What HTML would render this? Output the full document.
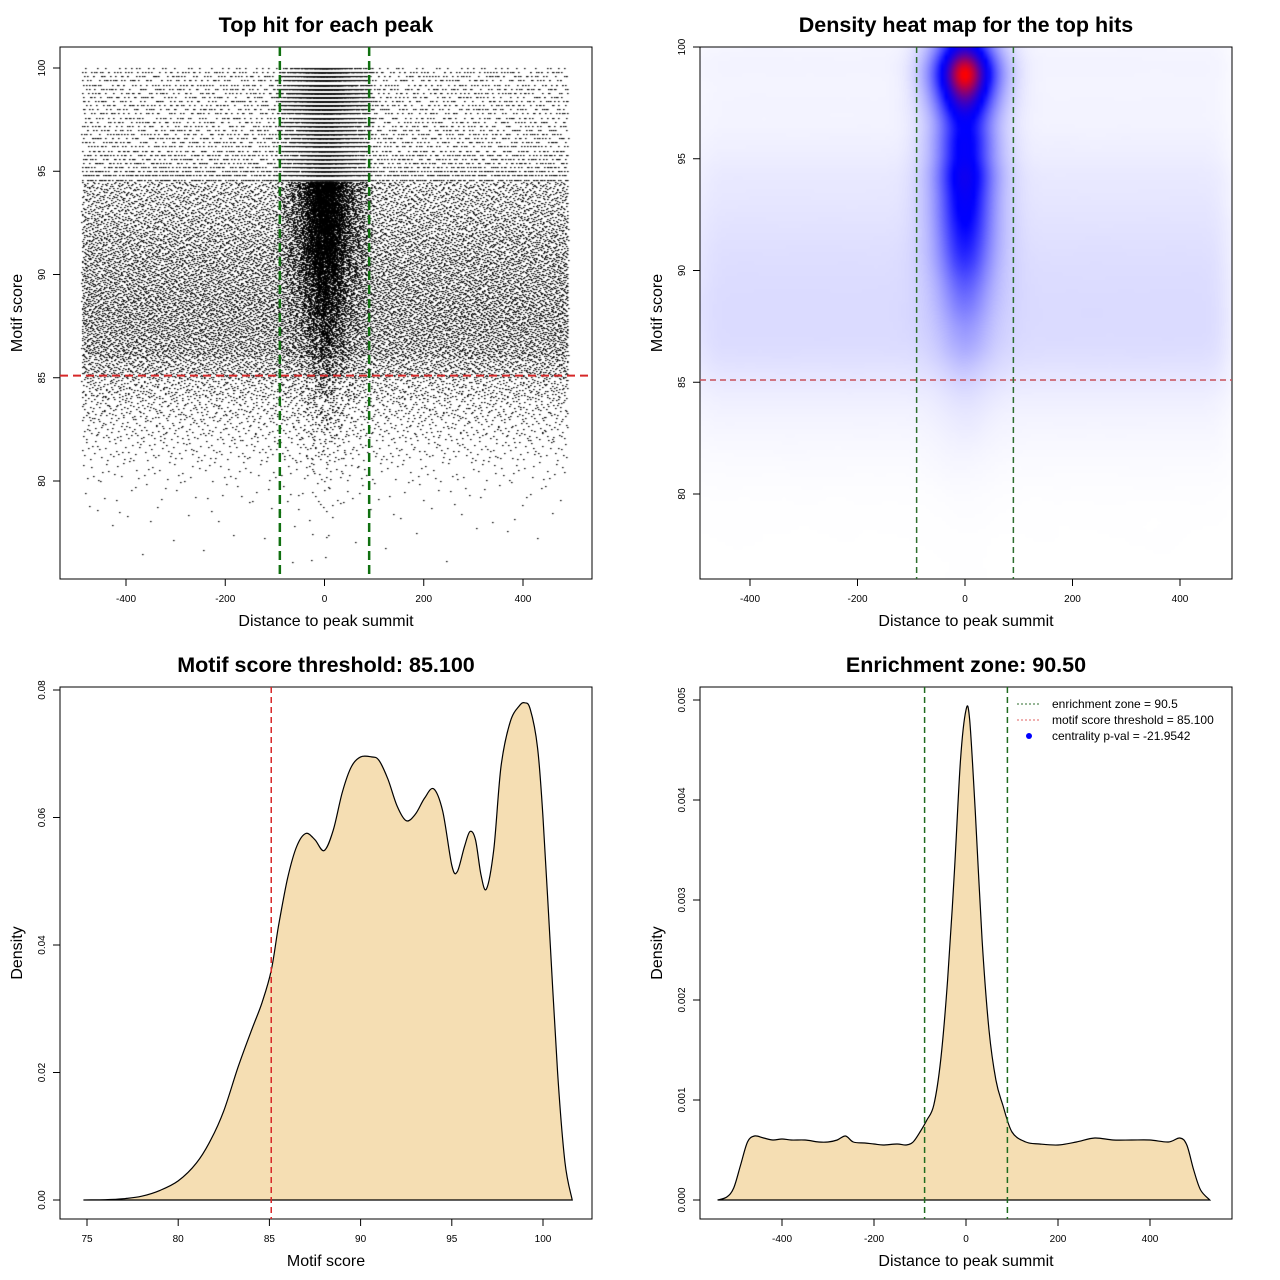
<!DOCTYPE html>
<html><head><meta charset="utf-8">
<style>
html,body{margin:0;padding:0;background:#fff;}
#wrap{position:relative;width:1280px;height:1280px;font-family:"Liberation Sans",sans-serif;}
canvas{position:absolute;}
svg{position:absolute;left:0;top:0;}
</style></head>
<body>
<div id="wrap">
<canvas id="scatter" width="532" height="532" style="left:60px;top:47px"></canvas>
<canvas id="heat" width="532" height="532" style="left:700px;top:47px"></canvas>
<svg id="svg" width="1280" height="1280"></svg>
</div>
<script>
// ---- data ----
const scoreBins = [76,77,78,79,80,81,82,83,84,85,86,87,88,89,90,91,92,93,94,95,96,97,98,99];
const bgCounts  = [5,10,25,50,120,250,400,600,900,1500,2000,2100,2100,2000,1900,1700,1500,1300,1200,800,650,600,600,650];
const centerCounts = [2,3,5,8,15,25,40,60,90,150,300,400,600,800,1100,1300,1500,1600,1800,1500,1600,1800,3800,2400];
const scoreDensX = [74.8,76,77,78,79,80,81,81.8,82.5,83.3,84,84.6,85.1,85.5,86,86.5,87,87.5,88,88.5,89,89.5,90,90.6,91,91.5,92,92.5,93,93.5,94,94.5,95,95.3,95.7,96,96.3,96.6,96.9,97.3,97.7,98.2,98.7,99,99.3,99.7,100,100.4,100.8,101.2,101.6];
const scoreDensY = [0,0.00005,0.0002,0.0006,0.0015,0.003,0.0058,0.0095,0.014,0.021,0.0265,0.031,0.036,0.043,0.0505,0.0555,0.0575,0.0565,0.0548,0.058,0.064,0.068,0.0695,0.0695,0.069,0.066,0.0618,0.0595,0.0605,0.063,0.0645,0.061,0.0525,0.0515,0.0555,0.0578,0.0565,0.051,0.0488,0.055,0.068,0.075,0.0775,0.078,0.077,0.071,0.06,0.04,0.02,0.006,0];
const distDensX = [-540,-520,-505,-490,-475,-460,-440,-420,-400,-380,-350,-320,-300,-280,-262,-245,-220,-200,-180,-150,-130,-115,-100,-85,-70,-55,-40,-25,-12,0,8,20,35,50,65,80,100,130,160,200,240,280,320,360,400,440,465,480,495,510,530];
const distDensY = [0,0.00003,0.00012,0.00035,0.00058,0.00064,0.00062,0.0006,0.00061,0.0006,0.0006,0.00058,0.00058,0.0006,0.00064,0.00058,0.00057,0.00056,0.00055,0.00056,0.00055,0.00058,0.00068,0.0008,0.00095,0.0014,0.0022,0.0033,0.0044,0.0049,0.0048,0.0039,0.0026,0.0017,0.0012,0.00095,0.00068,0.00058,0.00056,0.00055,0.00058,0.00062,0.0006,0.0006,0.0006,0.00058,0.00062,0.00055,0.0003,0.0001,0];
const distTicks = [-400,-200,0,200,400];
const scoreTicks = [80,85,90,95,100];
const scoreXTicks = [75,80,85,90,95,100];
const densTicksL = [0,0.02,0.04,0.06,0.08];
const densTicksR = [0,0.001,0.002,0.003,0.004,0.005];
const threshold = 85.1;
const zoneHalf = 90;

// ---- helpers ----
const NS="http://www.w3.org/2000/svg";
const svg=document.getElementById('svg');
function mk(tag,attrs,parent){const e=document.createElementNS(NS,tag);for(const k in attrs)e.setAttribute(k,attrs[k]);(parent||svg).appendChild(e);return e;}
function lin(d0,d1,r0,r1){return v=>r0+(v-d0)*(r1-r0)/(d1-d0);}
function halton(i,b){let f=1,r=0;while(i>0){f/=b;r+=f*(i%b);i=Math.floor(i/b);}return r;}
function smoothPath(P){let d='M'+P[0][0].toFixed(1)+' '+P[0][1].toFixed(1);
  for(let i=0;i<P.length-1;i++){const p0=P[Math.max(0,i-1)],p1=P[i],p2=P[i+1],p3=P[Math.min(P.length-1,i+2)];
    const c1=[p1[0]+(p2[0]-p0[0])/6,p1[1]+(p2[1]-p0[1])/6],c2=[p2[0]-(p3[0]-p1[0])/6,p2[1]-(p3[1]-p1[1])/6];
    d+=` C${c1[0].toFixed(1)} ${c1[1].toFixed(1)} ${c2[0].toFixed(1)} ${c2[1].toFixed(1)} ${p2[0].toFixed(1)} ${p2[1].toFixed(1)}`;}
  return d;}

// generate points from bin counts
const pts=[];
let gi=1,ci=1;
scoreBins.forEach((lo,k)=>{
  for(let j=0;j<bgCounts[k];j++){const x=-490+980*halton(gi,2);let s=lo+halton(gi,3);gi++;pts.push([x,s]);}
  for(let j=0;j<centerCounts[k];j++){let x;
    if(ci%2)x=(halton(ci,5)+halton(ci,7)-1)*100;else x=(halton(ci,5)+halton(ci,7)+halton(ci,13)-1.5)*40;
    let s=lo+halton(ci,11);ci++;pts.push([x,s]);}
});
pts.forEach(p=>{if(p[1]>=94.5)p[1]=Math.min(100,Math.round(p[1]/0.2)*0.2);});

function panel(o){
  const g=mk('g',{});
  mk('rect',{x:o.L,y:o.T,width:o.R-o.L,height:o.B-o.T,fill:'none',stroke:'#000','stroke-width':1,},g);
  const t=mk('text',{x:(o.L+o.R)/2,y:o.T-15,'text-anchor':'middle','font-size':21.5,'font-weight':'bold',},g);t.textContent=o.title;
  const xt=mk('text',{x:(o.L+o.R)/2,y:o.B+47,'text-anchor':'middle','font-size':16,},g);xt.textContent=o.xlab;
  const ym=(o.T+o.B)/2;
  const yt=mk('text',{x:o.L-38,y:ym,transform:`rotate(-90 ${o.L-38} ${ym})`,'text-anchor':'middle','font-size':16,},g);
  yt.textContent=o.ylab;
  const xa=mk('g',{},g);
  o.xt.forEach(v=>{const x=o.sx(v);mk('line',{x1:x,x2:x,y1:o.B,y2:o.B+7,stroke:'#000'},xa);
    const l=mk('text',{x:x,y:o.B+23,'text-anchor':'middle','font-size':10},xa);l.textContent=o.xf(v);});
  mk('line',{x1:o.sx(o.xt[0]),x2:o.sx(o.xt[o.xt.length-1]),y1:o.B,y2:o.B,stroke:'#000'},xa);
  const ya=mk('g',{},g);
  o.yt.forEach(v=>{const y=o.sy(v);mk('line',{x1:o.L-7,x2:o.L,y1:y,y2:y,stroke:'#000'},ya);
    const l=mk('text',{x:o.L-15,y:y,transform:`rotate(-90 ${o.L-15} ${y})`,'text-anchor':'middle','font-size':10},ya);l.textContent=o.yf(v);});
  mk('line',{x1:o.L,x2:o.L,y1:o.sy(o.yt[0]),y2:o.sy(o.yt[o.yt.length-1]),stroke:'#000'},ya);
  return g;
}

// ---- panel 1 scatter ----
const p1={L:60,R:592,T:47,B:579,sx:lin(-400,400,126,523),sy:lin(80,100,481,68)};
(function(){
  const c=document.getElementById('scatter').getContext('2d');c.fillStyle='#000';
  pts.forEach(p=>{c.fillRect(Math.round(p1.sx(p[0])-p1.L),Math.round(p1.sy(p[1])-p1.T),1.6,1.1);});
})();
const g1=panel({...p1,name:'scatter-panel',title:'Top hit for each peak',xlab:'Distance to peak summit',ylab:'Motif score',xt:distTicks,yt:scoreTicks,xf:v=>v,yf:v=>v});
mk('line',{x1:p1.L,x2:p1.R,y1:p1.sy(threshold),y2:p1.sy(threshold),stroke:'#d62728','stroke-width':2,'stroke-dasharray':'8 5',},g1);
[-zoneHalf,zoneHalf].forEach(v=>mk('line',{x1:p1.sx(v),x2:p1.sx(v),y1:p1.T,y2:p1.B,stroke:'#107010','stroke-width':2.5,'stroke-dasharray':'9 5',},g1));

// ---- panel 2 heatmap ----
const p2={L:700,R:1232,T:47,B:579,sx:lin(-400,400,750,1180),sy:lin(80,100,494,47)};
(function(){
  const W=133,H=133,cell=4;const grid=new Float32Array(W*H);
  pts.forEach(p=>{const i=Math.floor((p2.sx(p[0])-p2.L)/cell),j=Math.floor((p2.sy(p[1])-p2.T)/cell);if(i>=0&&i<W&&j>=0&&j<H)grid[j*W+i]++;});
  function blur(a,sig,horiz){const r=Math.ceil(sig*3),k=[];let s=0;for(let t=-r;t<=r;t++){const v=Math.exp(-t*t/(2*sig*sig));k.push(v);s+=v;}k.forEach((v,i)=>k[i]=v/s);
    const o=new Float32Array(W*H);for(let y=0;y<H;y++)for(let x=0;x<W;x++){let acc=0;for(let t=-r;t<=r;t++){let xx=horiz?x+t:x,yy=horiz?y:y+t;xx=Math.max(0,Math.min(W-1,xx));yy=Math.max(0,Math.min(H-1,yy));acc+=a[yy*W+xx]*k[t+r];}o[y*W+x]=acc;}return o;}
  let d=blur(blur(grid,3,true),3,false);
  let mx=0;d.forEach(v=>{if(v>mx)mx=v;});
  const sm=document.createElement('canvas');sm.width=W;sm.height=H;const sc=sm.getContext('2d');const im=sc.createImageData(W,H);
  for(let q=0;q<W*H;q++){let t=Math.pow(d[q]/mx,0.95);let r,g,b;
    if(t<0.5){const u=t*2;r=255*(1-u);g=255*(1-u);b=255;}else{const u=Math.pow((t-0.5)*2,1.6);r=255*u;g=0;b=255*(1-u);}
    im.data[q*4]=r;im.data[q*4+1]=g;im.data[q*4+2]=b;im.data[q*4+3]=255;}
  sc.putImageData(im,0,0);
  const c=document.getElementById('heat').getContext('2d');c.imageSmoothingEnabled=true;c.drawImage(sm,0,0,W*cell,H*cell);
})();
const g2=panel({...p2,name:'heatmap-panel',title:'Density heat map for the top hits',xlab:'Distance to peak summit',ylab:'Motif score',xt:distTicks,yt:scoreTicks,xf:v=>v,yf:v=>v});
mk('line',{x1:p2.L,x2:p2.R,y1:p2.sy(threshold),y2:p2.sy(threshold),stroke:'#c8505a','stroke-width':1.5,'stroke-dasharray':'6 4',},g2);
[-zoneHalf,zoneHalf].forEach(v=>mk('line',{x1:p2.sx(v),x2:p2.sx(v),y1:p2.T,y2:p2.B,stroke:'#2e6e2e','stroke-width':1.5,'stroke-dasharray':'6 4',},g2));

// ---- panel 3 score density ----
const p3={L:60,R:592,T:687,B:1219,sx:lin(75,100,87,543),sy:lin(0,0.08,1200,690)};
const g3=panel({...p3,name:'score-density-panel',title:'Motif score threshold: 85.100',xlab:'Motif score',ylab:'Density',xt:scoreXTicks,yt:densTicksL,xf:v=>v,yf:v=>v.toFixed(2)});
(function(){const P=scoreDensX.map((x,i)=>[p3.sx(x),p3.sy(scoreDensY[i])]);
  const d=smoothPath(P)+' Z';
  mk('path',{d:d,fill:'#f5deb3',stroke:'#000','stroke-width':1.2,},g3);})();
mk('line',{x1:p3.sx(threshold),x2:p3.sx(threshold),y1:p3.T,y2:p3.B,stroke:'#d62728','stroke-width':1.5,'stroke-dasharray':'6 4',},g3);

// ---- panel 4 distance density ----
const p4={L:700,R:1232,T:687,B:1219,sx:lin(-400,400,782,1150),sy:lin(0,0.005,1200,700)};
const g4=panel({...p4,name:'distance-density-panel',title:'Enrichment zone: 90.50',xlab:'Distance to peak summit',ylab:'Density',xt:distTicks,yt:densTicksR,xf:v=>v,yf:v=>v.toFixed(3)});
(function(){const P=distDensX.map((x,i)=>[p4.sx(x),p4.sy(distDensY[i])]);
  const d=smoothPath(P)+' Z';
  mk('path',{d:d,fill:'#f5deb3',stroke:'#000','stroke-width':1.2,},g4);})();
[-zoneHalf,zoneHalf].forEach(v=>mk('line',{x1:p4.sx(v),x2:p4.sx(v),y1:p4.T,y2:p4.B,stroke:'#1f6b1f','stroke-width':1.5,'stroke-dasharray':'6 4',},g4));
const lg=mk('g',{},g4);
[['enrichment zone = 90.5','#2e6e2e','line'],['motif score threshold = 85.100','#e06060','line'],['centrality p-val = -21.9542','#0000ff','dot']].forEach((e,i)=>{
  const y=704+i*16;const it=mk('g',{},lg);
  if(e[2]==='line')mk('line',{x1:1017,x2:1041,y1:y,y2:y,stroke:e[1],'stroke-width':1,'stroke-dasharray':'2 2'},it);
  else mk('circle',{cx:1029,cy:y,r:3,fill:e[1]},it);
  const t=mk('text',{x:1052,y:y+4,'font-size':12},it);t.textContent=e[0];
});
</script>
</body></html>
